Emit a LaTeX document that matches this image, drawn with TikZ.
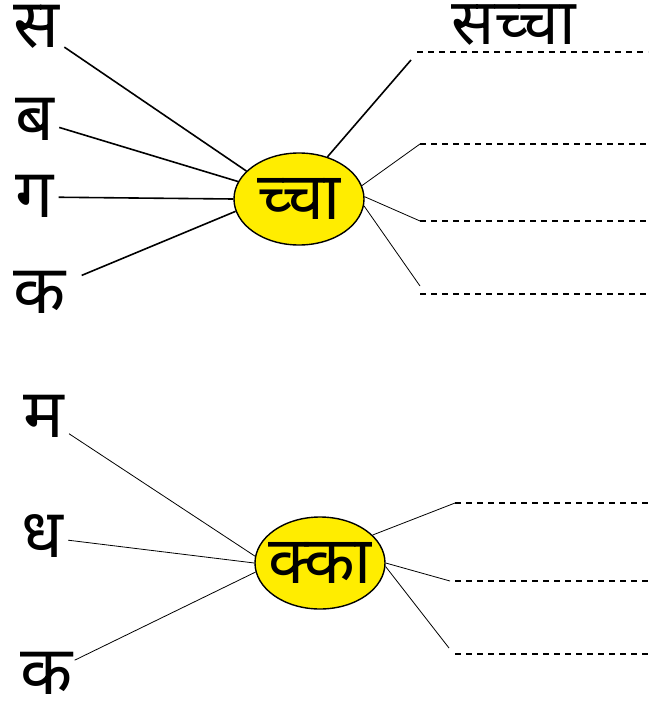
\documentclass[tikz,border=0pt]{standalone}
\usepackage{fontspec}
\newfontfamily\devfont[Script=Devanagari]{Noto Sans}
\usetikzlibrary{shapes.geometric}
\definecolor{hubyellow}{RGB}{255,237,0}

\begin{document}
\begin{tikzpicture}[x=1pt,y=-1pt,
    letter/.style={font=\devfont\fontsize{68}{72}\selectfont,anchor=base west,
                   text height=40pt,text depth=0pt,inner sep=5pt},
    hub/.style={ellipse,draw,line width=1.4pt,fill=hubyellow,minimum width=130pt,
                minimum height=92pt,inner sep=-20pt,text height=40pt,text depth=0pt,
                font=\devfont\fontsize{66}{72}\selectfont},
    spoke/.style={line width=1.6pt},
    thinspoke/.style={line width=0.8pt},
    blank/.style={line width=1.5pt,dash pattern=on 6pt off 5pt}]
  \useasboundingbox (0,0) rectangle (651,706);

  % upper word web
  \node[hub] (hubA) at (299,199) {च्चा};
  \node[letter] (sa) at (8,48) {स};
  \node[letter] (ba) at (10,140) {ब};
  \node[letter] (ga) at (10,217) {ग};
  \node[letter] (ka) at (8,313) {क};
  \node[letter,inner sep=1pt,font=\devfont\fontsize{64}{72}\selectfont] (answer) at (450,45) {सच्चा};
  \draw[spoke] (sa) -- (hubA.152);
  \draw[spoke] (ba) -- (hubA.164);
  \draw[spoke] (ga) -- (hubA.180);
  \draw[spoke,shorten <=12pt] (ka) -- (hubA.191);

  \coordinate (a1) at (417,52);  \coordinate (a1e) at (648,52);
  \coordinate (a2) at (420,144); \coordinate (a2e) at (648,144);
  \coordinate (a3) at (420,221); \coordinate (a3e) at (648,221);
  \coordinate (a4) at (420,294); \coordinate (a4e) at (648,294);
  \draw[spoke] (hubA.56) -- ([shift={(-6,8)}]a1);
  \draw[thinspoke] (hubA.12) -- (a2);
  \draw[thinspoke] (hubA.2) -- (a3);
  \draw[thinspoke] (hubA.-6) -- ([shift={(0,-8)}]a4);
  \draw[blank] (a1) -- (a1e);
  \draw[blank] (a2) -- (a2e);
  \draw[blank] (a3) -- (a3e);
  \draw[blank] (a4) -- (a4e);

  % lower word web
  \node[hub] (hubB) at (320,563) {क्का};
  \node[letter] (ma) at (18,437) {म};
  \node[letter] (dha) at (16,557) {ध};
  \node[letter,inner sep=2pt] (kb) at (18,694) {क};
  \draw[thinspoke] (ma) -- (hubB.174);
  \draw[thinspoke] (dha) -- (hubB.180);
  \draw[thinspoke] (kb) -- (hubB.188);

  \coordinate (b1) at (455,503); \coordinate (b1e) at (648,503);
  \coordinate (b2) at (455,581); \coordinate (b2e) at (648,581);
  \coordinate (b3) at (455,654); \coordinate (b3e) at (648,654);
  \draw[thinspoke] (hubB.28) -- (b1);
  \draw[thinspoke] (hubB.0) -- ([shift={(-5,0)}]b2);
  \draw[thinspoke] (hubB.-3) -- ([shift={(-6,-6)}]b3);
  \draw[blank] (b1) -- (b1e);
  \draw[blank] (b2) -- (b2e);
  \draw[blank] (b3) -- (b3e);
\end{tikzpicture}
\end{document}
